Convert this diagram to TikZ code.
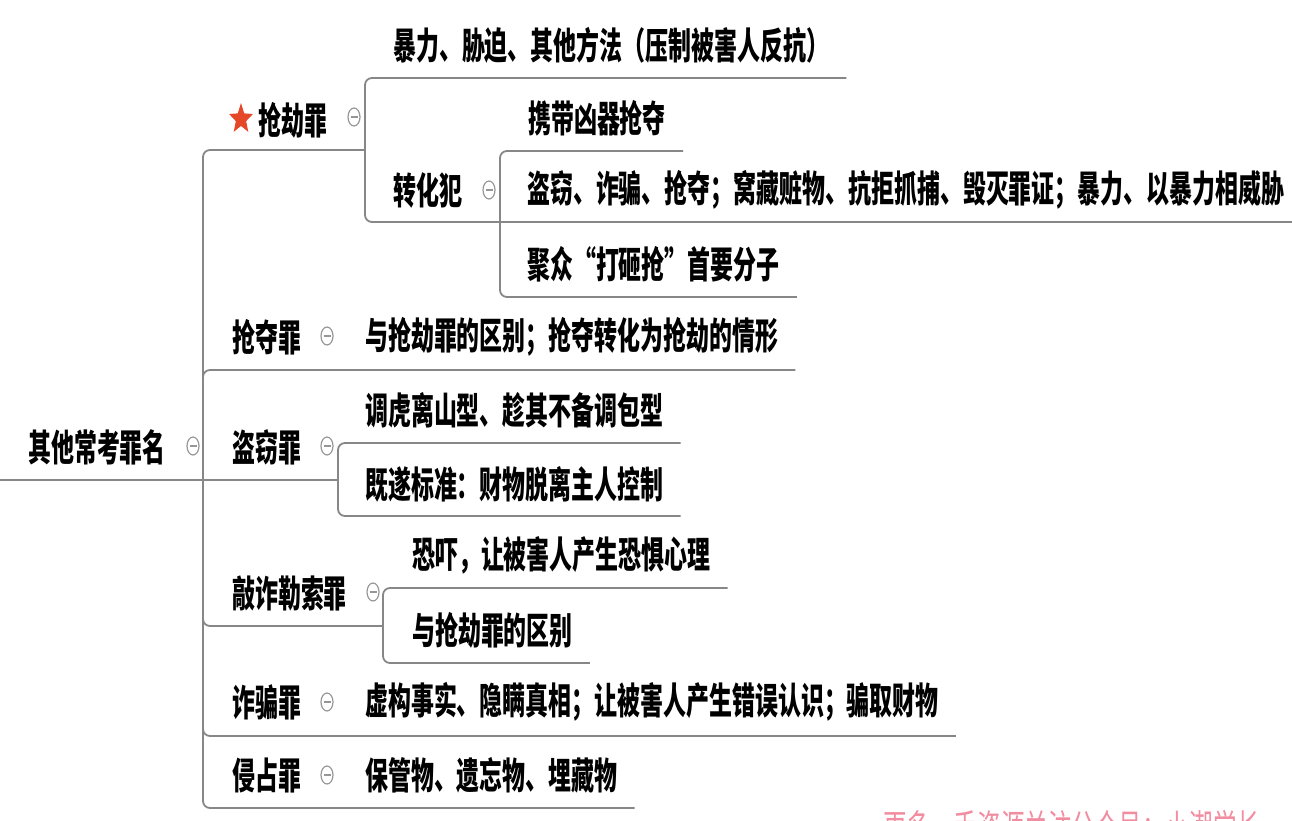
\documentclass[tikz,border=0pt]{standalone}
\usepackage{fontspec}
\newfontfamily\mapfont{Noto Sans CJK SC}[FakeStretch=0.62]
\usetikzlibrary{shapes.geometric, calc}
\definecolor{linegray}{RGB}{135,135,135}
\definecolor{foldgray}{RGB}{150,150,150}
\definecolor{starred}{RGB}{228,72,40}
\definecolor{markpink}{RGB}{242,140,160}

\tikzset{
  topic/.style={font=\mapfont\bfseries\fontsize{37}{40}\selectfont, inner sep=0pt, anchor=west},
  link/.style={draw=linegray, line width=1.8pt, rounded corners=7pt},
  fold/.style={ellipse, draw=foldgray, line width=1.2pt, minimum width=12pt, minimum height=18pt,
    inner sep=0pt, fill=white,
    path picture={\draw[foldgray, line width=1.2pt]
      ([xshift=-3.5pt]path picture bounding box.center) -- ([xshift=3.5pt]path picture bounding box.center);}},
}

\begin{document}
\begin{tikzpicture}[x=1pt, y=-1pt]
  \useasboundingbox (0,0) rectangle (1292,821);
  \clip (0,0) rectangle (1292,821);

  % root
  \node[topic] (root) at (28,447) {其他常考罪名};
  \node[fold] (root-f) at (193,446) {};
  \coordinate (edge) at (0,480);
  \coordinate (trunk) at (203,480);
  \draw[link] (edge) -- (trunk);

  % robbery
  \begin{scope}[shift={(241,119)}, xscale=0.78]
    \node[star, star points=5, star point ratio=2.3, minimum size=32pt, inner sep=0pt, fill=starred, transform shape] (rob-star) at (0,0) {};
  \end{scope}
  \node[topic] (rob) at (258,120) {抢劫罪};
  \node[fold] (rob-f) at (354,117) {};
  \coordinate (rob-fork) at (365,150);
  \draw[link] (trunk) |- (rob-fork);

  \node[topic] (rob-a) at (393,45) {暴力、胁迫、其他方法（压制被害人反抗）};
  \draw[link] (rob-fork) |- ([xshift=17pt,yshift=-33pt]rob-a.east);

  \node[topic] (turn) at (393,190) {转化犯};
  \node[fold] (turn-f) at (489,190) {};
  \coordinate (turn-fork) at (500,222);
  \draw[link] (rob-fork) |- (turn-fork);

  \node[topic] (turn-a) at (528,118) {携带凶器抢夺};
  \node[topic] (turn-b) at (527,190) {盗窃、诈骗、抢夺；窝藏赃物、抗拒抓捕、毁灭罪证；暴力、以暴力相威胁};
  \node[topic] (turn-c) at (527,264) {聚众“打砸抢”首要分子};
  \draw[link] (turn-fork) |- ([xshift=17pt,yshift=-33pt]turn-a.east);
  \draw[link] (turn-fork) -- ([xshift=17pt]turn-fork -| turn-b.east);
  \draw[link] (turn-fork) |- ([xshift=17pt,yshift=-33pt]turn-c.east);

  % snatching
  \node[topic] (snatch) at (232,337) {抢夺罪};
  \node[fold] (snatch-f) at (327,336) {};
  \node[topic] (snatch-a) at (365,337) {与抢劫罪的区别；抢夺转化为抢劫的情形};
  \draw[link] (trunk) |- ([xshift=17pt,yshift=-33pt]snatch-a.east);

  % theft
  \node[topic] (theft) at (232,447) {盗窃罪};
  \node[fold] (theft-f) at (327,446) {};
  \coordinate (theft-fork) at (338,480);
  \draw[link] (trunk) -- (theft-fork);

  \node[topic] (theft-a) at (365,410) {调虎离山型、趁其不备调包型};
  \node[topic] (theft-b) at (365,484) {既遂标准：财物脱离主人控制};
  \draw[link] (theft-fork) |- ([xshift=17pt,yshift=-33pt]theft-a.east);
  \draw[link] (theft-fork) |- ([xshift=17pt,yshift=-32pt]theft-b.east);

  % extortion
  \node[topic] (extort) at (232,593) {敲诈勒索罪};
  \node[fold] (extort-f) at (373,592) {};
  \coordinate (extort-fork) at (383,626);
  \draw[link] (trunk) |- (extort-fork);

  \node[topic] (extort-a) at (412,555) {恐吓，让被害人产生恐惧心理};
  \node[topic] (extort-b) at (412,630) {与抢劫罪的区别};
  \draw[link] (extort-fork) |- ([xshift=17pt,yshift=-33pt]extort-a.east);
  \draw[link] (extort-fork) |- ([xshift=17pt,yshift=-33pt]extort-b.east);

  % fraud
  \node[topic] (fraud) at (232,702) {诈骗罪};
  \node[fold] (fraud-f) at (327,702) {};
  \node[topic] (fraud-a) at (365,702) {虚构事实、隐瞒真相；让被害人产生错误认识；骗取财物};
  \draw[link] (trunk) |- ([xshift=17pt,yshift=-34pt]fraud-a.east);

  % embezzlement
  \node[topic] (embez) at (232,775) {侵占罪};
  \node[fold] (embez-f) at (327,775) {};
  \node[topic] (embez-a) at (365,775) {保管物、遗忘物、埋藏物};
  \draw[link] (trunk) |- ([xshift=17pt,yshift=-33pt]embez-a.east);

  % watermark, cut by the lower edge
  \node[font=\mapfont\fontsize{38}{40}\selectfont, text=markpink, inner sep=0pt, anchor=west] (mark) at (883,828) {更多一手资源关注公众号：小潮学长};
\end{tikzpicture}
\end{document}
